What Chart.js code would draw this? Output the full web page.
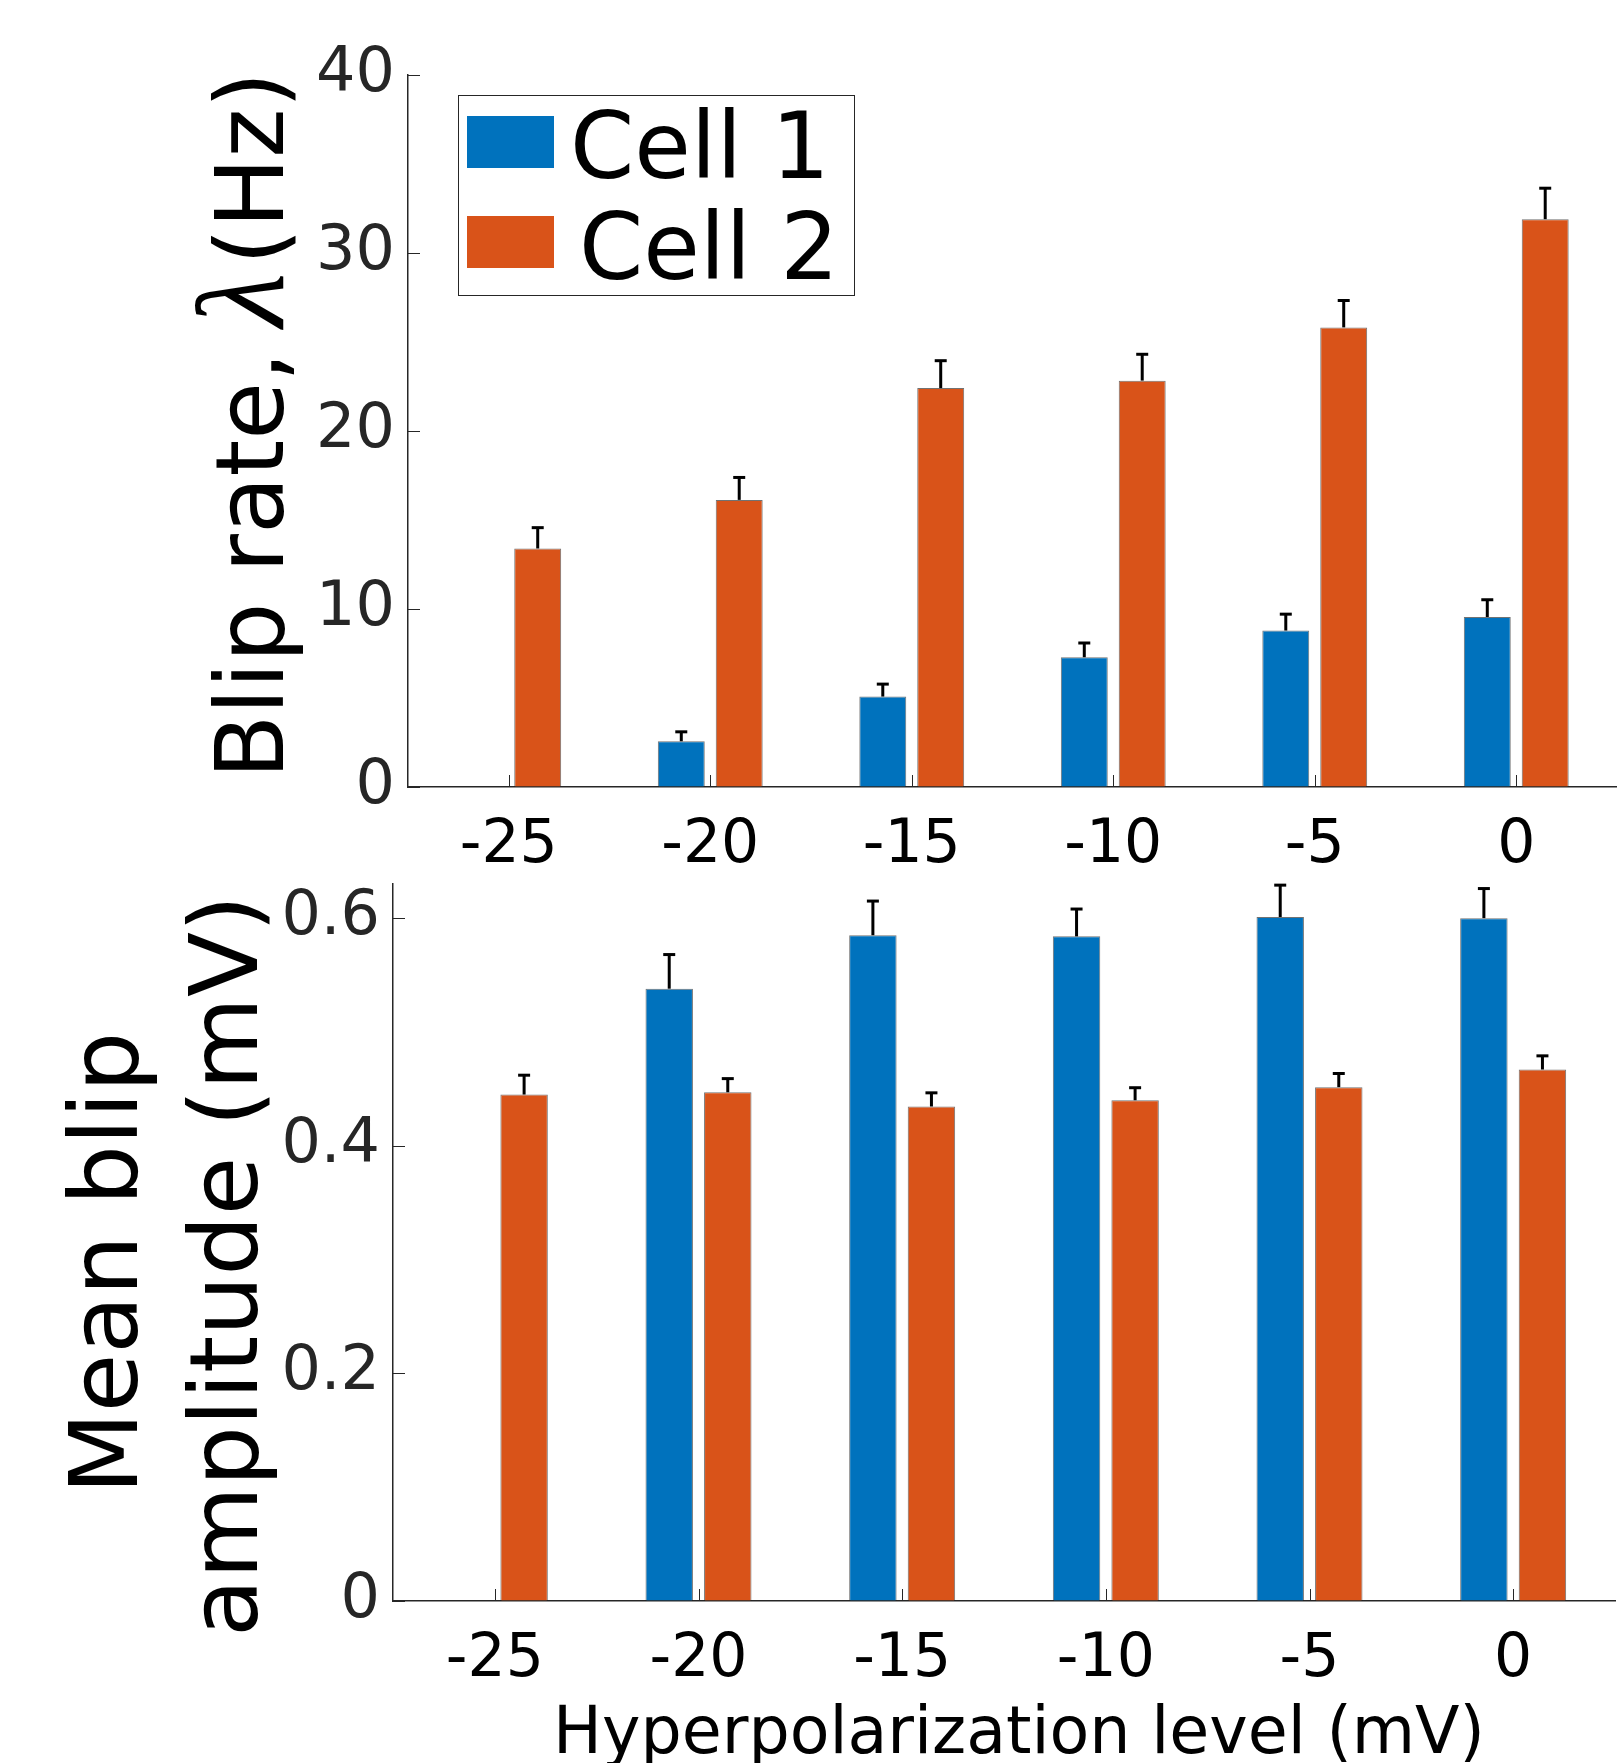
<!DOCTYPE html>
<html><head><meta charset="utf-8">
<script src="https://cdn.jsdelivr.net/npm/chart.js@4.4.1/dist/chart.umd.min.js"></script>
<style>
html,body{margin:0;padding:0;background:#fff;}
body{width:1617px;height:1763px;position:relative;overflow:hidden;}
#c1{position:absolute;left:0;top:0;}
#c2{position:absolute;left:0;top:880px;}
</style></head><body>
<canvas id="c1" width="1617" height="880"></canvas>
<canvas id="c2" width="1617" height="883"></canvas>
<script>
// ---- data ----
const categories = ['-25', '-20', '-15', '-10', '-5', '0'];
const seriesNames = ['Cell 1', 'Cell 2'];

const rateCell1    = [0, 2.57, 5.08, 7.29, 8.79, 9.55];
const rateCell1Err = [0, 0.53, 0.70, 0.80, 0.92, 0.97];
const rateCell2    = [13.40, 16.13, 22.41, 22.83, 25.82, 31.90];
const rateCell2Err = [1.17, 1.26, 1.54, 1.48, 1.51, 1.74];

const ampCell1    = [0, 0.538, 0.585, 0.584, 0.601, 0.600];
const ampCell1Err = [0, 0.030, 0.030, 0.024, 0.028, 0.026];
const ampCell2    = [0.445, 0.447, 0.4345, 0.440, 0.4515, 0.467];
const ampCell2Err = [0.017, 0.012, 0.012, 0.011, 0.012, 0.012];

const rateTicks = [0, 10, 20, 30, 40];
const rateTickLabels = ['0', '10', '20', '30', '40'];
const ampTicks = [0, 0.2, 0.4, 0.6];
const ampTickLabels = ['0', '0.2', '0.4', '0.6'];

const rateTitle = ['Blip rate,', '\u03BB', '(Hz)'];
const ampTitle = ['Mean blip', 'amplitude (mV)'];
const xTitle = 'Hyperpolarization level (mV)';

// ---- styling ----
const BLUE = '#0072BD', ORANGE = '#D95319';
const AXIS = '#262626';
const FONT = 'DejaVu Sans';

function ds(label, data, color, err) {
  return {
    label, data, errPlus: err,
    backgroundColor: color,
    borderColor: 'rgba(20,20,20,0.6)',
    borderWidth: 1,
    categoryPercentage: 0.575,
    barPercentage: 0.81
  };
}

function scalesFor(yMin, yMax, ticks, labels, yWidth, xHeight) {
  return {
    x: {
      type: 'category', offset: true,
      grid: { display: true, drawOnChartArea: false, drawTicks: false },
      border: { display: true, color: AXIS, width: 1.5 },
      ticks: { color: '#000', font: { family: FONT, size: 60 }, padding: 23, maxRotation: 0, minRotation: 0, autoSkip: false },
      afterFit(s) { s.height = xHeight; s.paddingLeft = 0; s.paddingRight = 0; }
    },
    y: {
      type: 'linear', min: yMin, max: yMax,
      grid: { display: true, drawOnChartArea: false, drawTicks: false },
      border: { display: true, color: AXIS, width: 1.5 },
      ticks: { color: AXIS, font: { family: FONT, size: 62 }, padding: 13,
               callback: (v, i) => labels[i] },
      afterBuildTicks(s) { s.ticks = ticks.map(v => ({ value: v })); },
      afterFit(s) { s.width = yWidth; s.paddingTop = 0; s.paddingBottom = 0; }
    }
  };
}

const tickPlugin = {
  id: 'inwardTicks',
  beforeDatasetsDraw(chart) {
    const ctx = chart.ctx, a = chart.chartArea, xs = chart.scales.x, ys = chart.scales.y;
    ctx.save();
    ctx.strokeStyle = AXIS; ctx.lineWidth = 1;
    ys.ticks.forEach(t => {
      const py = Math.round(ys.getPixelForValue(t.value)) + 0.5;
      ctx.beginPath(); ctx.moveTo(a.left, py); ctx.lineTo(a.left + 12, py); ctx.stroke();
    });
    xs.ticks.forEach((t, i) => {
      const px = Math.round(xs.getPixelForValue(i)) + 0.5;
      ctx.beginPath(); ctx.moveTo(px, a.bottom); ctx.lineTo(px, a.bottom - 12); ctx.stroke();
    });
    ctx.restore();
  },
  afterDatasetsDraw(chart) {
    const ctx = chart.ctx, ys = chart.scales.y;
    ctx.save();
    ctx.strokeStyle = '#000'; ctx.lineWidth = 3;
    chart.data.datasets.forEach((d, di) => {
      const meta = chart.getDatasetMeta(di);
      meta.data.forEach((bar, j) => {
        const e = d.errPlus[j];
        if (!e) return;
        const yTop = ys.getPixelForValue(d.data[j] + e);
        const yb = ys.getPixelForValue(d.data[j]);
        ctx.beginPath(); ctx.moveTo(bar.x, yb); ctx.lineTo(bar.x, yTop); ctx.stroke();
        ctx.beginPath(); ctx.moveTo(bar.x - 6, yTop); ctx.lineTo(bar.x + 6, yTop); ctx.stroke();
      });
    });
    ctx.restore();
  }
};

const topDecor = {
  id: 'topDecor',
  afterDraw(chart) {
    const ctx = chart.ctx;
    ctx.save();
    ctx.translate(283, 779);
    ctx.rotate(-Math.PI / 2);
    ctx.fillStyle = '#000';
    ctx.textBaseline = 'alphabetic';
    ctx.textAlign = 'left';
    ctx.font = '94px ' + FONT;
    ctx.fillText(rateTitle[0], 0, 0);
    ctx.font = 'italic 125px "Liberation Serif", "DejaVu Serif", serif';
    ctx.textAlign = 'center';
    ctx.fillText(rateTitle[1], 479, 0);
    ctx.font = '94px ' + FONT;
    ctx.textAlign = 'left';
    ctx.fillText(rateTitle[2], 514, 0);
    ctx.restore();

    // legend
    ctx.save();
    ctx.fillStyle = '#fff';
    ctx.fillRect(458, 95, 397, 201);
    ctx.strokeStyle = AXIS; ctx.lineWidth = 1;
    ctx.strokeRect(458.5, 95.5, 396, 200);
    const sw = [[116, 178, 570], [216, 279, 579]];
    chart.data.datasets.forEach((d, i) => {
      ctx.fillStyle = d.backgroundColor;
      ctx.fillRect(467, sw[i][0], 87, 52);
      ctx.fillStyle = '#000';
      ctx.font = '92px ' + FONT;
      ctx.textBaseline = 'alphabetic';
      ctx.textAlign = 'left';
      ctx.fillText(d.label, sw[i][2], sw[i][1]);
    });
    ctx.restore();
  }
};

const bottomDecor = {
  id: 'bottomDecor',
  afterDraw(chart) {
    const ctx = chart.ctx;
    ctx.save();
    ctx.fillStyle = '#000';
    ctx.font = '95px ' + FONT;
    ctx.textAlign = 'center';
    ctx.textBaseline = 'alphabetic';
    ctx.save();
    ctx.translate(137, 383); ctx.rotate(-Math.PI / 2);
    ctx.fillText(ampTitle[0], 0, 0);
    ctx.restore();
    ctx.save();
    ctx.translate(257, 386); ctx.rotate(-Math.PI / 2);
    ctx.fillText(ampTitle[1], 0, 0);
    ctx.restore();
    ctx.font = '65px ' + FONT;
    ctx.fillText(xTitle, 1019, 873);
    ctx.restore();
  }
};

Chart.defaults.font.family = FONT;

new Chart(document.getElementById('c1'), {
  type: 'bar',
  data: {
    labels: categories,
    datasets: [ds(seriesNames[0], rateCell1, BLUE, rateCell1Err), ds(seriesNames[1], rateCell2, ORANGE, rateCell2Err)]
  },
  options: {
    responsive: false, animation: false,
    layout: { padding: { top: 75, right: 0, bottom: 0, left: 0 } },
    plugins: { legend: { display: false }, tooltip: { enabled: false } },
    scales: scalesFor(0, 40, rateTicks, rateTickLabels, 408, 93)
  },
  plugins: [tickPlugin, topDecor]
});

new Chart(document.getElementById('c2'), {
  type: 'bar',
  data: {
    labels: categories,
    datasets: [ds(seriesNames[0], ampCell1, BLUE, ampCell1Err), ds(seriesNames[1], ampCell2, ORANGE, ampCell2Err)]
  },
  options: {
    responsive: false, animation: false,
    layout: { padding: { top: 4, right: 2, bottom: 0, left: 0 } },
    plugins: { legend: { display: false }, tooltip: { enabled: false } },
    scales: scalesFor(0, 0.63, ampTicks, ampTickLabels, 393, 162)
  },
  plugins: [tickPlugin, bottomDecor]
});
</script>
</body></html>
